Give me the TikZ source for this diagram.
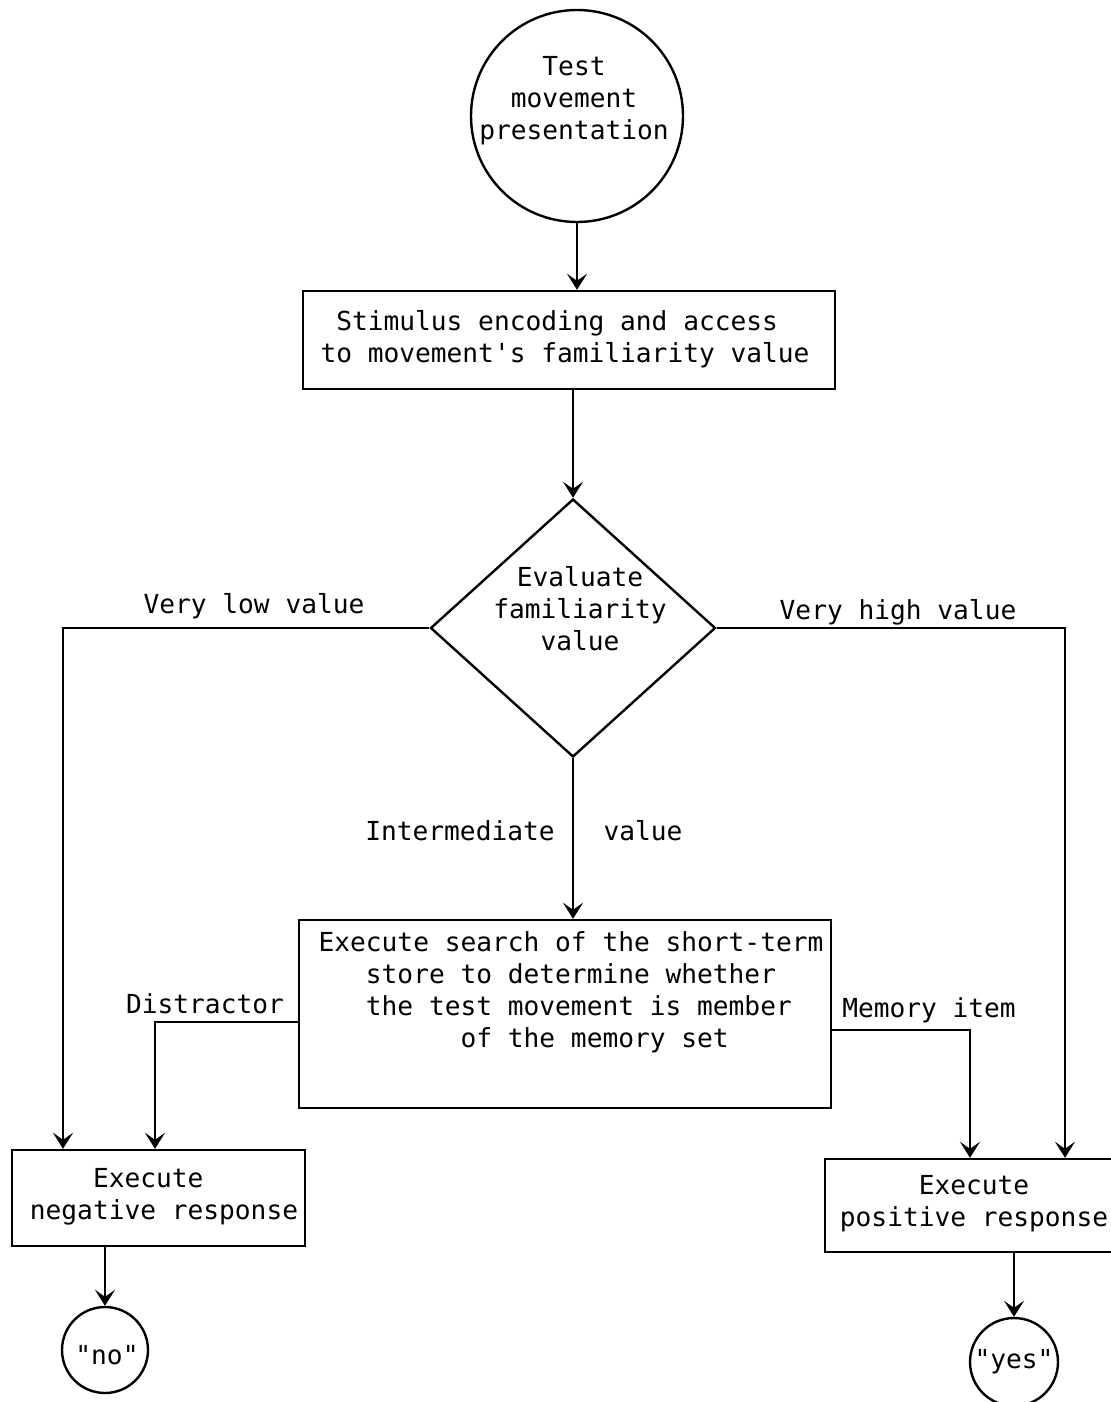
\documentclass[tikz,border=0pt]{standalone}
\usepackage{fontspec}
\newfontfamily\tw{DejaVu Sans Mono}
\usetikzlibrary{arrows.meta,shapes.geometric}
\tikzset{
  ln/.style={line width=1.2pt, draw=black},
  arr/.style={ln, -{Stealth[length=8pt,width=10pt,inset=3.5pt]}},
  txt/.style={font=\tw\fontsize{13.1}{16}\selectfont, inner sep=0pt, align=center},
  txtl/.style={font=\tw\fontsize{13.1}{16}\selectfont, inner sep=0pt, align=left},
  boxn/.style={ln, rectangle, inner sep=0pt},
  circn/.style={ln, circle, inner sep=0pt},
}
\begin{document}
\begin{tikzpicture}[x=0.5pt,y=-0.5pt]
\useasboundingbox[fill=white] (0,0) rectangle (1110,1402);
% nodes
\node[circn, minimum size=106pt] (test) at (577,116) {};
\node[txt] (testtxt) at (574,101) {Test\\movement\\presentation};
\node[boxn, minimum width=266pt, minimum height=49pt] (enc) at (569,340) {};
\node[txtl] (enctxt) at (565,339) {\phantom{x}Stimulus encoding and access\\to movement's familiarity value};
\node[ln, diamond, inner sep=0pt, minimum width=142.5pt, minimum height=129pt] (dia) at (573,628) {};
\node[txt] (diatxt) at (580,609) {Evaluate\\familiarity\\value};
\node[boxn, minimum width=266pt, minimum height=94pt] (search) at (565,1014) {};
\node[txtl] (searchtxt) at (571,992) {Execute search of the short-term\\\phantom{xxx}store to determine whether\\\phantom{xxx}the test movement is member\\\phantom{xxxxxxxxx}of the memory set};
\node[boxn, minimum width=146.5pt, minimum height=48pt] (neg) at (158.5,1198) {};
\node[txtl] (negtxt) at (164,1197) {\phantom{xxxx}Execute\\negative response};
\node[boxn, minimum width=145pt, minimum height=46.5pt] (pos) at (970,1205.5) {};
\node[txtl] (postxt) at (974,1204) {\phantom{xxxxx}Execute\\positive response};
\node[circn, minimum size=43pt] (no) at (105,1350) {};
\node[txt] (notxt) at (107,1355) {"no"};
\node[circn, minimum size=44pt] (yes) at (1014,1362) {};
\node[txt] (yestxt) at (1014,1362) {"yes"};
% labels
\node[txt] (lvlow) at (254,606) {Very low value};
\node[txt] (lvhigh) at (898,612) {Very high value};
\node[txt] (linter) at (460,831) {Intermediate};
\node[txt] (lval) at (643,831) {value};
\node[txt] (ldist) at (205,1004) {Distractor};
\node[txt] (lmem) at (929,1010) {Memory item};
% turn points
\coordinate (lowturn) at (63,628);
\coordinate (highturn) at (1065,628);
\coordinate (dturn) at (155,1022);
\coordinate (mturn) at (970,1030);
% connectors
\draw[arr] (test.south) -- (enc.north -| test.south);
\draw[arr] (enc.south -| dia.north) -- (dia.north);
\draw[arr] (dia.south) -- (search.north -| dia.south);
\draw[arr] (dia.west) -- (lowturn) -- (neg.north -| lowturn);
\draw[arr] (dia.east) -- (highturn) -- (pos.north -| highturn);
\draw[arr] (search.west |- dturn) -- (dturn) -- (neg.north -| dturn);
\draw[arr] (search.east |- mturn) -- (mturn) -- (pos.north -| mturn);
\draw[arr] (neg.south -| no.north) -- (no.north);
\draw[arr] (pos.south -| yes.north) -- (yes.north);
\end{tikzpicture}
\end{document}
